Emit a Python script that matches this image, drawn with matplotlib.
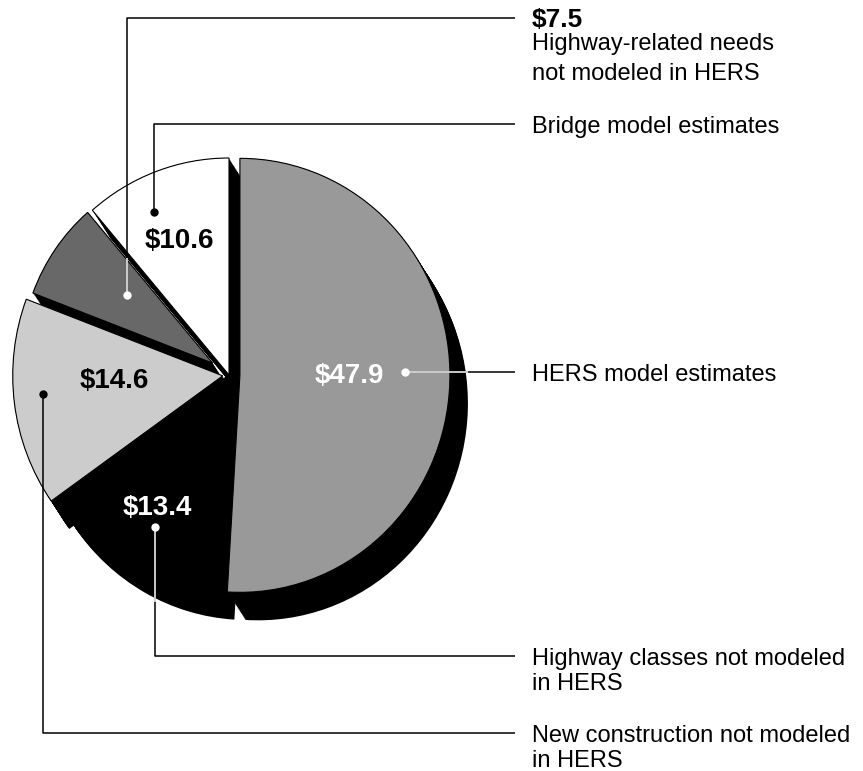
import matplotlib.pyplot as plt
import numpy as np

plt.rcParams['font.family'] = ['Liberation Sans', 'DejaVu Sans']

# slices, counter-clockwise from 12 o'clock
values = [10.6, 7.5, 14.6, 13.4, 47.9]
value_labels = ['$10.6', '$7.5', '$14.6', '$13.4', '$47.9']
colors = ['#ffffff', '#686868', '#cccccc', '#000000', '#999999']
explode = [0.0, 0.095, 0.03, 0.0, 0.052]
radii = [1.0, 0.915, 1.0, 1.0, 1.0]

desc_bridge = ['Bridge model estimates']
desc_highway = ['Highway-related needs', 'not modeled in HERS']
desc_hers = ['HERS model estimates']
desc_classes = ['Highway classes not modeled', 'in HERS']
desc_newcons = ['New construction not modeled', 'in HERS']

W, H = 863, 771
cx, cy = 229, 375      # pie centre in pixels
rx, ry = 210, 217      # pie is a touch taller than wide
shadow = (18, 28)      # drop shadow offset in pixels

fig = plt.figure(figsize=(W / 100, H / 100), dpi=100)

# pie in unit-circle coords, stretched to the pixel ellipse
axp = fig.add_axes([0, 0, 1, 1])
for t in np.linspace(0, 1, 25):
    sh, _ = axp.pie(values, colors=['black'] * 5, explode=explode, startangle=90,
                    center=(t * shadow[0] / rx, -t * shadow[1] / ry),
                    wedgeprops=dict(linewidth=0))
    for w, r in zip(sh, radii):
        w.set_radius(r)
wedges, _ = axp.pie(values, colors=colors, explode=explode, startangle=90,
                    wedgeprops=dict(edgecolor='black', linewidth=0.8))
for w, r in zip(wedges, radii):
    w.set_radius(r)
axp.set_aspect('auto')
axp.set_xlim(-cx / rx, (W - cx) / rx)
axp.set_ylim(-(H - cy) / ry, cy / ry)
axp.axis('off')

# overlay in pixel coords for labels and leaders
ax = fig.add_axes([0, 0, 1, 1])
ax.set_xlim(0, W)
ax.set_ylim(H, 0)
ax.axis('off')
ax.patch.set_alpha(0)

lw = 1.1
xend = 515
xtxt = 532


def leader(pts, white_upto=None, dot='black'):
    xs, ys = zip(*pts)
    ax.plot(xs, ys, color='black', lw=lw, solid_capstyle='butt')
    if white_upto is not None:
        (x0, y0), (x1, y1) = pts[0], white_upto
        ax.plot([x0, x1], [y0, y1], color='white', lw=lw, solid_capstyle='butt')
    ax.plot(pts[0][0], pts[0][1], 'o', color=dot, ms=6, mec='none')


# $7.5 dark slice
leader([(127, 295), (127, 18), (xend, 18)], white_upto=(127, 258), dot='white')
# $10.6 white slice
leader([(154, 212), (154, 124), (xend, 124)])
# $47.9 HERS
leader([(405, 372), (xend, 372)], white_upto=(468, 372), dot='white')
# $13.4 black slice
leader([(155, 527), (155, 656), (xend, 656)], white_upto=(155, 602), dot='white')
# $14.6 light slice
leader([(43, 394), (43, 733), (xend, 733)])

# values inside slices
big = dict(fontsize=20, fontweight='bold', ha='center', va='baseline')
ax.text(179, 248, value_labels[0], color='black', **big)
ax.text(114, 388, value_labels[2], color='black', **big)
ax.text(157, 515, value_labels[3], color='white', **big)
ax.text(349, 383, value_labels[4], color='white', **big)

# right-hand descriptions
small = dict(fontsize=17, ha='left', va='baseline', color='black')
ax.text(xtxt, 27, value_labels[1], fontsize=19, fontweight='bold',
        ha='left', va='baseline')
ax.text(xtxt, 50, desc_highway[0], **small)
ax.text(xtxt, 80, desc_highway[1], **small)
ax.text(xtxt, 133, desc_bridge[0], **small)
ax.text(xtxt, 381, desc_hers[0], **small)
ax.text(xtxt, 665, desc_classes[0], **small)
ax.text(xtxt, 690, desc_classes[1], **small)
ax.text(xtxt, 742, desc_newcons[0], **small)
ax.text(xtxt, 767, desc_newcons[1], **small)

fig.savefig('out.png', dpi=100, facecolor='white')
